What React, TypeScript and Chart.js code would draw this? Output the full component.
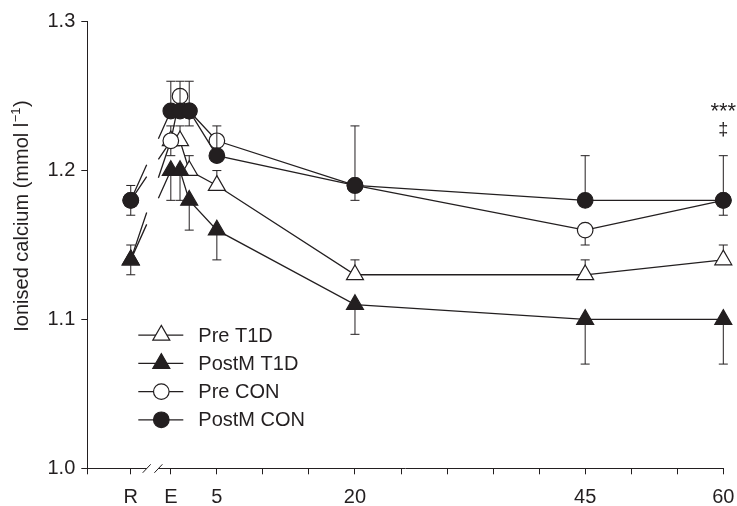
import React, { useEffect, useRef } from 'react';
import { Chart, registerables } from 'chart.js';

Chart.register(...registerables);

// ---------- data ----------
const R_POS = -4.35; // position of the "R" (rest) sample on the broken time axis
const X_MIN = -9.07;
const X_MAX = 60;
const TIMES = [R_POS, 0, 1, 2, 5, 20, 45, 60];

const PRE_T1D = [1.14, 1.22, 1.22, 1.2, 1.19, 1.13, 1.13, 1.14];
const PRE_T1D_ERR = [0.01, 0.01, 0.01, 0.01, 0.01, 0.01, 0.01, 0.01]; // upward

const POSTM_T1D = [1.14, 1.2, 1.2, 1.18, 1.16, 1.11, 1.1, 1.1];
const POSTM_T1D_ERR = [0.01, 0.02, 0.02, 0.02, 0.02, 0.02, 0.03, 0.03]; // downward

const PRE_CON = [1.18, 1.22, 1.25, 1.24, 1.22, 1.19, 1.16, 1.18];
const PRE_CON_ERR = [0.01, 0.01, 0.01, 0.01, 0.01, 0.01, 0.01, 0.01]; // downward

const POSTM_CON = [1.18, 1.24, 1.24, 1.24, 1.21, 1.19, 1.18, 1.18];
const POSTM_CON_ERR = [0.01, 0.02, 0.02, 0.02, 0.02, 0.04, 0.03, 0.03]; // upward

const X_TICK_VALUES = [X_MIN, R_POS, 0, 5, 10, 15, 20, 25, 30, 35, 40, 45, 50, 55, 60];
const X_TICK_LABELS = ['', 'R', 'E', '5', '', '', '20', '', '', '', '', '45', '', '', '60'];
const Y_TICK_VALUES = [1.0, 1.1, 1.2, 1.3];

const Y_TITLE_MAIN = 'Ionised calcium (mmol l';
const Y_TITLE_SUP = '\u22121';
const Y_TITLE_END = ')';
const ANNOT_TOP = '***';
const ANNOT_BOTTOM = '\u2021';

// axis-break span (in x units)
const BREAK_FROM = -2.62;
const BREAK_TO = -1.35;

// ---------- styles ----------
const INK = '#231f20';
const FONT = "'Liberation Sans', Arial, Helvetica, sans-serif";

function breakDash(ctx: any) {
  if (ctx.p0DataIndex !== 0) return undefined;
  const xs = ctx.chart.scales.x;
  const a = xs.getPixelForValue(BREAK_FROM);
  const b = xs.getPixelForValue(BREAK_TO);
  const p0 = ctx.p0;
  const p1 = ctx.p1;
  const dx = p1.x - p0.x;
  const dy = p1.y - p0.y;
  const L = Math.hypot(dx, dy);
  const t1 = (a - p0.x) / dx;
  const t2 = (b - p0.x) / dx;
  return [t1 * L, (t2 - t1) * L, L * 2];
}

function makeDataset(label: string, values: number[], errs: number[], dir: number, shape: string, filled: boolean, order: number) {
  const r = shape === 'triangle' ? 9.8 : 7.8;
  return {
    label,
    data: TIMES.map((t, i) => ({ x: t, y: values[i] })),
    errs,
    errDir: dir,
    shape,
    filled,
    order,
    clip: false,
    borderColor: INK,
    borderWidth: 1.3,
    pointStyle: shape,
    pointRadius: r,
    pointHoverRadius: r,
    pointBackgroundColor: filled ? INK : '#ffffff',
    pointBorderColor: INK,
    pointBorderWidth: 1.2,
    tension: 0,
    fill: false,
    segment: { borderDash: breakDash },
  };
}

const errorBarPlugin = {
  id: 'errorBars',
  beforeDatasetDraw(chart: any, args: any) {
    const ds = chart.data.datasets[args.index];
    const ys = chart.scales.y;
    const ctx = chart.ctx;
    ctx.save();
    ctx.strokeStyle = INK;
    ctx.lineWidth = 1;
    args.meta.data.forEach((pt: any, i: number) => {
      const e = ds.errs[i];
      if (!e) return;
      const v = ds.data[i].y;
      const y0 = ys.getPixelForValue(v);
      const y1 = ys.getPixelForValue(v + ds.errDir * e);
      ctx.beginPath();
      ctx.moveTo(pt.x, y0);
      ctx.lineTo(pt.x, y1);
      ctx.moveTo(pt.x - 4.5, y1);
      ctx.lineTo(pt.x + 4.5, y1);
      ctx.stroke();
    });
    ctx.restore();
  },
};

function drawMarker(ctx: CanvasRenderingContext2D, shape: string, filled: boolean, x: number, y: number) {
  ctx.beginPath();
  if (shape === 'triangle') {
    const r = 9.8;
    ctx.moveTo(x, y - r);
    ctx.lineTo(x + r * Math.sin((2 * Math.PI) / 3), y - r * Math.cos((2 * Math.PI) / 3));
    ctx.lineTo(x + r * Math.sin((4 * Math.PI) / 3), y - r * Math.cos((4 * Math.PI) / 3));
    ctx.closePath();
  } else {
    ctx.arc(x, y, 7.8, 0, Math.PI * 2);
  }
  ctx.fillStyle = filled ? INK : '#ffffff';
  ctx.fill();
  ctx.lineWidth = 1.2;
  ctx.strokeStyle = INK;
  ctx.stroke();
}

const decorPlugin = {
  id: 'decor',
  afterDraw(chart: any) {
    const ctx: CanvasRenderingContext2D = chart.ctx;
    const area = chart.chartArea;
    const xs = chart.scales.x;
    ctx.save();

    // axis break on the x axis
    const a = xs.getPixelForValue(BREAK_FROM);
    const b = xs.getPixelForValue(BREAK_TO);
    const yb = area.bottom;
    ctx.fillStyle = '#ffffff';
    ctx.fillRect(a, yb - 2, b - a, 4);
    ctx.strokeStyle = INK;
    ctx.lineWidth = 1;
    [a, b].forEach((x) => {
      ctx.beginPath();
      ctx.moveTo(x - 4, yb + 4.5);
      ctx.lineTo(x + 4, yb - 4);
      ctx.stroke();
    });

    // legend
    const lx = area.left + 51;
    const ly = area.top + 313.5;
    const step = 28.2;
    chart.data.datasets.forEach((ds: any, i: number) => {
      const y = ly + i * step;
      ctx.beginPath();
      ctx.strokeStyle = INK;
      ctx.lineWidth = 1.3;
      ctx.moveTo(lx, y);
      ctx.lineTo(lx + 45, y);
      ctx.stroke();
      drawMarker(ctx, ds.shape, ds.filled, lx + 23, y);
      ctx.fillStyle = INK;
      ctx.font = `20px ${FONT}`;
      ctx.textAlign = 'left';
      ctx.textBaseline = 'middle';
      ctx.fillText(ds.label, lx + 60, y + 1);
    });

    // y-axis title with superscript
    ctx.save();
    ctx.translate(28, 216);
    ctx.rotate(-Math.PI / 2);
    ctx.fillStyle = INK;
    ctx.textAlign = 'left';
    ctx.textBaseline = 'alphabetic';
    ctx.font = `20px ${FONT}`;
    const w1 = ctx.measureText(Y_TITLE_MAIN).width;
    const w3 = ctx.measureText(Y_TITLE_END).width;
    ctx.font = `13px ${FONT}`;
    const w2 = ctx.measureText(Y_TITLE_SUP).width;
    let x0 = -(w1 + w2 + w3 + 1) / 2;
    ctx.font = `20px ${FONT}`;
    ctx.fillText(Y_TITLE_MAIN, x0, 0);
    x0 += w1 + 0.5;
    ctx.font = `13px ${FONT}`;
    ctx.fillText(Y_TITLE_SUP, x0, -8);
    x0 += w2 + 0.5;
    ctx.font = `20px ${FONT}`;
    ctx.fillText(Y_TITLE_END, x0, 0);
    ctx.restore();

    // significance annotations at 60 min
    const x60 = xs.getPixelForValue(60);
    ctx.fillStyle = INK;
    ctx.textAlign = 'center';
    ctx.textBaseline = 'alphabetic';
    ctx.font = `22px ${FONT}`;
    ctx.fillText(ANNOT_TOP, x60, 117.5);
    ctx.font = `18px ${FONT}`;
    ctx.fillText(ANNOT_BOTTOM, x60, 135);

    ctx.restore();
  },
};

export default function App() {
  const ref = useRef<HTMLCanvasElement>(null);

  useEffect(() => {
    document.body.style.margin = '0';
    const canvas = ref.current;
    if (!canvas) return;
    const chart = new Chart(canvas, {
      type: 'line',
      data: {
        datasets: [
          makeDataset('Pre T1D', PRE_T1D, PRE_T1D_ERR, 1, 'triangle', false, 3),
          makeDataset('PostM T1D', POSTM_T1D, POSTM_T1D_ERR, -1, 'triangle', true, 1),
          makeDataset('Pre CON', PRE_CON, PRE_CON_ERR, -1, 'circle', false, 2),
          makeDataset('PostM CON', POSTM_CON, POSTM_CON_ERR, 1, 'circle', true, 0),
        ] as any,
      },
      options: {
        responsive: false,
        animation: false,
        events: [],
        devicePixelRatio: 1,
        layout: { padding: { top: 21.7, right: 13.7, left: 0, bottom: 0 } },
        plugins: {
          legend: { display: false },
          tooltip: { enabled: false },
          title: { display: false },
        },
        scales: {
          x: {
            type: 'linear',
            min: X_MIN,
            max: X_MAX,
            afterBuildTicks: (scale: any) => {
              scale.ticks = X_TICK_VALUES.map((v) => ({ value: v }));
            },
            afterFit: (scale: any) => {
              scale.height = 37.7;
              scale.paddingLeft = 0;
              scale.paddingRight = 0;
            },
            ticks: {
              autoSkip: false,
              maxRotation: 0,
              padding: 11,
              color: INK,
              font: { family: FONT, size: 20 },
              callback: (_v: any, i: number) => X_TICK_LABELS[i],
            },
            grid: { drawOnChartArea: false, drawTicks: true, tickLength: 6, color: INK, lineWidth: 1 },
            border: { display: true, color: INK, width: 1 },
          },
          y: {
            type: 'linear',
            min: 1.0,
            max: 1.3,
            afterBuildTicks: (scale: any) => {
              scale.ticks = Y_TICK_VALUES.map((v) => ({ value: v }));
            },
            afterFit: (scale: any) => {
              scale.width = 87.3;
              scale.paddingTop = 0;
              scale.paddingBottom = 0;
            },
            ticks: {
              padding: 6,
              color: INK,
              font: { family: FONT, size: 20 },
              callback: (v: any) => Number(v).toFixed(1),
            },
            grid: { drawOnChartArea: false, drawTicks: true, tickLength: 6, color: INK, lineWidth: 1 },
            border: { display: true, color: INK, width: 1 },
          },
        },
      } as any,
      plugins: [errorBarPlugin, decorPlugin],
    });
    return () => chart.destroy();
  }, []);

  return <canvas ref={ref} width={737} height={506} style={{ display: 'block', width: 737, height: 506 }} />;
}
